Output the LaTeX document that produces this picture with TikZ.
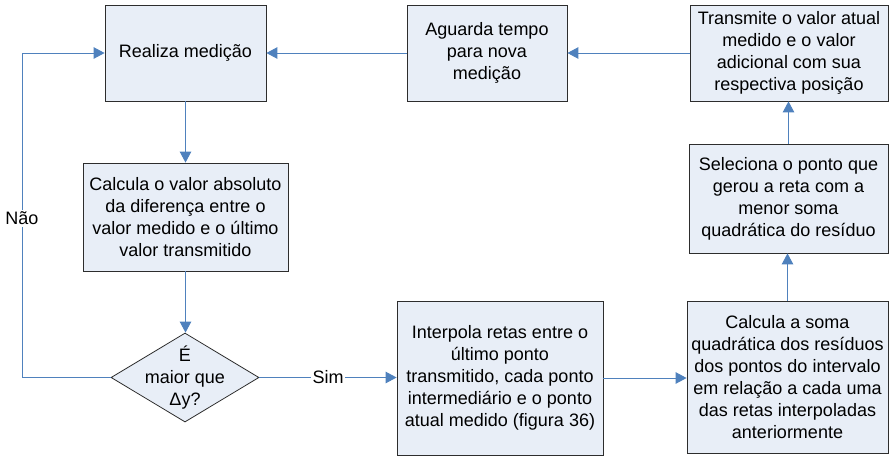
\documentclass[tikz,border=0pt]{standalone}
\usepackage{fontspec}
\setmainfont{Liberation Sans}
\usetikzlibrary{arrows.meta,shapes.geometric,shadows}
\definecolor{boxfill}{RGB}{232,238,247}
\definecolor{boxline}{RGB}{45,45,45}
\definecolor{conncol}{RGB}{79,129,189}
\begin{document}
\begin{tikzpicture}[x=1pt,y=-1pt,
  box/.style={draw=boxline, line width=0.8pt, fill=boxfill, inner sep=0pt,
    align=center, font=\fontsize{18}{22}\selectfont,
    drop shadow={shadow xshift=1pt, shadow yshift=-1pt, fill=black!55, opacity=1}},
  dia/.style={diamond, draw=boxline, line width=0.8pt, fill=boxfill, inner sep=0pt},
  dtext/.style={align=center, font=\fontsize{18}{22}\selectfont, inner sep=0pt},
  conn/.style={draw=conncol, line width=1pt, -{Triangle[length=11pt,width=11.5pt]}},
  lbl/.style={fill=white, inner sep=1.5pt, font=\fontsize{18}{22}\selectfont, text=black}
]
\useasboundingbox (0,0) rectangle (889,456);

\node[box, minimum width=161pt, minimum height=96pt] (real) at (185.5,53) {Realiza medição};
\node[box, minimum width=160pt, minimum height=96pt] (agu) at (487,53) {Aguarda tempo\\para nova\\medição};
\node[box, minimum width=198pt, minimum height=96pt] (trans) at (789,53) {Transmite o valor atual\\medido e o valor\\adicional com sua\\respectiva posição};
\node[box, minimum width=199pt, minimum height=109pt] (sel) at (788.5,198.5) {Seleciona o ponto que\\gerou a reta com a\\menor soma\\quadrática do resíduo};
\node[box, minimum width=205pt, minimum height=108pt] (calc) at (185.5,217) {Calcula o valor absoluto\\da diferença entre o\\valor medido e o último\\valor transmitido};
\node[dia, minimum width=148pt, minimum height=89pt] (dia) at (185,377.5) {};
\node[dtext] (diatext) at (dia.center) {É\\maior que\\Δy?};
\node[box, minimum width=206pt, minimum height=154pt] (interp) at (500,378) {Interpola retas entre o\\último ponto\\transmitido, cada ponto\\intermediário e o ponto\\atual medido (figura 36)};
\node[box, minimum width=201pt, minimum height=152pt] (soma) at (787.5,377) {Calcula a soma\\quadrática dos resíduos\\dos pontos do intervalo\\em relação a cada uma\\das retas interpoladas\\anteriormente};

\coordinate (nb) at (22,377.5);
\coordinate (nt) at (22,53);

\draw[conn] (real) -- (calc);
\draw[conn] (calc.south) -- (calc.south |- dia.north);
\draw[conn] (dia.west) -- (nb) -- node[lbl, pos=0.49]{Não} (nt) -- (real.west);
\draw[conn] (dia.east) -- node[lbl]{Sim} (dia.east -| interp.west);
\draw[conn] (interp.east) -- (interp.east -| soma.west);
\draw[conn] (soma.north) -- (soma.north |- sel.south);
\draw[conn] (sel.north) -- (sel.north |- trans.south);
\draw[conn] (trans.west) -- (agu.east);
\draw[conn] (agu.west) -- (real.east);
\end{tikzpicture}
\end{document}
